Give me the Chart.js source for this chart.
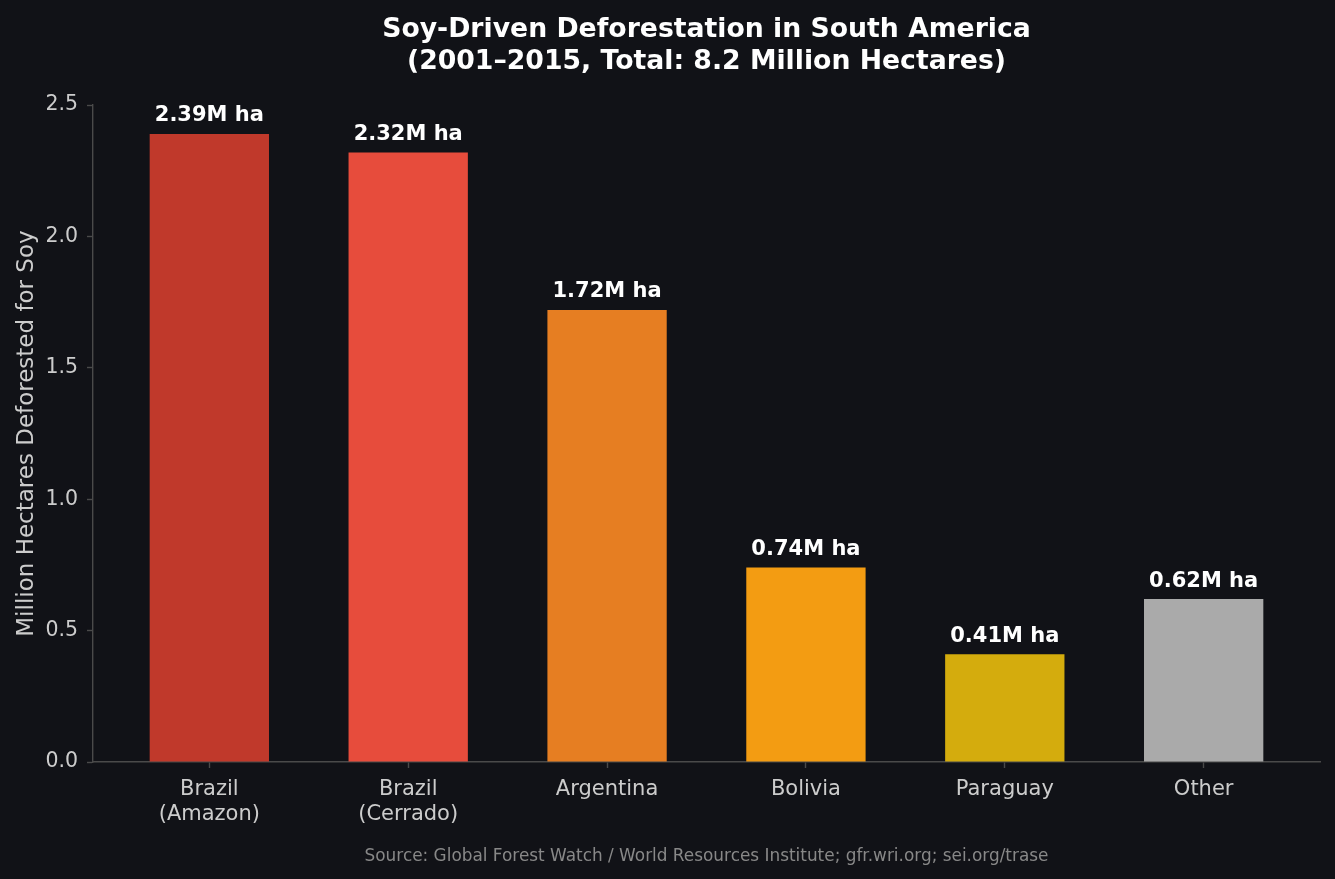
<!DOCTYPE html>
<html lang="en">
<head>
    <meta charset="UTF-8">
    <title>Soy-Driven Deforestation in South America</title>
    <script src="https://cdn.jsdelivr.net/npm/chart.js"></script>
    <style>
        body {
            margin: 0;
            padding: 0;
            background-color: #111217;
        }

        #chart-container {
            width: 1335px;
            height: 879px;
        }
    </style>
</head>
<body>
    <div id="chart-container">
        <canvas id="soyChart"></canvas>
    </div>

    <script>
        // Data
        const regions = [['Brazil', '(Amazon)'], ['Brazil', '(Cerrado)'], 'Argentina', 'Bolivia', 'Paraguay', 'Other'];
        const hectares = [2.39, 2.32, 1.72, 0.74, 0.41, 0.62];
        const barColors = ['#c0392b', '#e74c3c', '#e67e22', '#f39c12', '#d4ac0d', '#aaaaaa'];
        const yTicks = [0, 0.5, 1.0, 1.5, 2.0, 2.5];

        const font = "'DejaVu Sans', sans-serif";
        const spineColor = '#4a4a4a';

        // Paint the dark background behind everything
        const background = {
            id: 'background',
            beforeDraw(chart) {
                const ctx = chart.ctx;
                ctx.save();
                ctx.fillStyle = '#111217';
                ctx.fillRect(0, 0, chart.width, chart.height);
                ctx.restore();
            }
        };

        // "2.39M ha" style labels above each bar
        const valueLabels = {
            id: 'valueLabels',
            afterDatasetsDraw(chart) {
                const ctx = chart.ctx;
                const meta = chart.getDatasetMeta(0);
                ctx.save();
                ctx.fillStyle = '#ffffff';
                ctx.font = 'bold 21px ' + font;
                ctx.textAlign = 'center';
                ctx.textBaseline = 'middle';
                meta.data.forEach((bar, i) => {
                    ctx.fillText(hectares[i].toFixed(2) + 'M ha', bar.x, bar.y - 18);
                });
                ctx.restore();
            }
        };

        const ctx = document.getElementById('soyChart').getContext('2d');
        new Chart(ctx, {
            type: 'bar',
            data: {
                datasets: [{
                    data: hectares.map((v, i) => ({ x: i, y: v })),
                    backgroundColor: barColors,
                    borderWidth: 0,
                    categoryPercentage: 1.0,
                    barPercentage: 0.6
                }]
            },
            options: {
                responsive: true,
                maintainAspectRatio: false,
                animation: false,
                layout: {
                    padding: { left: 1, right: 15, top: 0, bottom: 0 }
                },
                plugins: {
                    legend: { display: false },
                    tooltip: { enabled: false },
                    title: {
                        display: true,
                        fullSize: false,
                        text: ['Soy-Driven Deforestation in South America', '(2001\u20132015, Total: 8.2 Million Hectares)'],
                        color: '#ffffff',
                        font: { family: font, size: 26.7, weight: 'bold', lineHeight: 1.2 },
                        padding: { top: 14, bottom: 27 }
                    },
                    subtitle: {
                        display: true,
                        fullSize: false,
                        position: 'bottom',
                        text: 'Source: Global Forest Watch / World Resources Institute; gfr.wri.org; sei.org/trase',
                        color: '#888888',
                        font: { family: font, size: 16.9, lineHeight: '20px' },
                        padding: { top: 0, bottom: 12 }
                    }
                },
                scales: {
                    x: {
                        type: 'linear',
                        min: -0.585,
                        max: 5.585,
                        offset: false,
                        afterBuildTicks: scale => {
                            scale.ticks = regions.map((r, i) => ({ value: i }));
                        },
                        afterFit: scale => {
                            scale.height = 85;
                        },
                        ticks: {
                            autoSkip: false,
                            maxRotation: 0,
                            color: '#cccccc',
                            padding: 9,
                            font: { family: font, size: 21, lineHeight: 1.2 },
                            callback: value => regions[value]
                        },
                        grid: {
                            offset: false,
                            drawOnChartArea: false,
                            drawTicks: true,
                            tickLength: 6,
                            tickWidth: 1.4,
                            color: spineColor
                        },
                        border: { display: true, color: spineColor, width: 1.4 }
                    },
                    y: {
                        min: 0,
                        max: 2.5,
                        afterBuildTicks: scale => {
                            scale.ticks = yTicks.map(v => ({ value: v }));
                        },
                        afterFit: scale => {
                            scale.width = 92;
                        },
                        ticks: {
                            color: '#cccccc',
                            padding: 9,
                            font: { family: font, size: 20.5 },
                            callback: value => value.toFixed(1)
                        },
                        grid: {
                            drawOnChartArea: false,
                            drawTicks: true,
                            tickLength: 6,
                            tickWidth: 1.4,
                            color: spineColor
                        },
                        border: { display: true, color: spineColor, width: 1.4 },
                        title: {
                            display: true,
                            text: 'Million Hectares Deforested for Soy',
                            color: '#cccccc',
                            font: { family: font, size: 23, lineHeight: 1.2 },
                            padding: { top: 12, bottom: 0 }
                        }
                    }
                }
            },
            plugins: [background, valueLabels]
        });
    </script>
</body>
</html>
